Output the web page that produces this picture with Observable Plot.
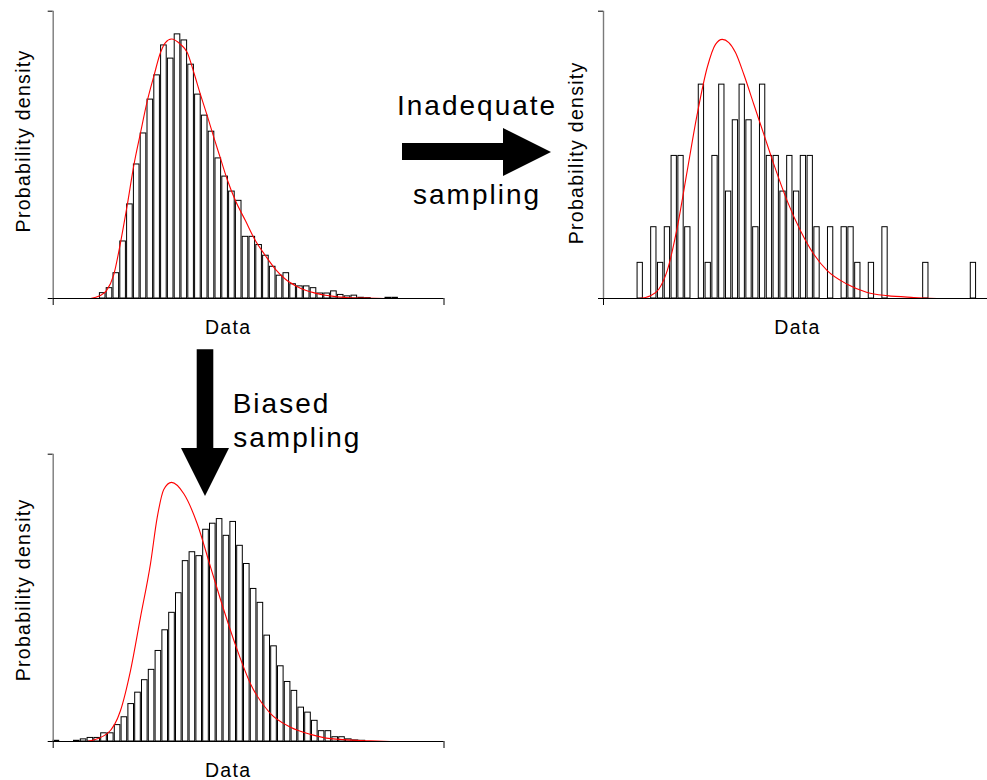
<!DOCTYPE html>
<html><head><meta charset="utf-8">
<script src="https://cdn.jsdelivr.net/npm/d3@7"></script>
<script src="https://cdn.jsdelivr.net/npm/@observablehq/plot@0.6"></script>
<style>
html,body{margin:0;padding:0;background:#fff;}
#page{position:relative;width:987px;height:780px;overflow:hidden;background:#fff;}
.panel{position:absolute;width:450px;height:345px;}
.panel svg{background:transparent !important;max-width:none !important;}
.panel svg text{font-family:"Liberation Sans",Arial,sans-serif;letter-spacing:1.3px;fill:#000;}
#notes{position:absolute;left:0;top:0;}
#notes text{font-family:"Liberation Sans",Arial,sans-serif;font-size:28px;letter-spacing:2px;fill:#000;}
</style></head><body><div id="page"></div>
<script>
// ---- data (x in bin units, y in percent of sample per bin) ----
const xMax = 57.47;
const yMax = 8.06;

// population histogram (top-left)
const popStart = 6.78;
const popPercent = [0.15,0.29,0.71,1.60,2.64,3.76,4.63,5.58,6.26,7.10,6.73,7.41,7.24,6.56,5.72,5.13,4.68,3.93,3.42,3.00,2.74,1.73,1.73,1.50,1.20,0.89,0.64,0.71,0.40,0.34,0.34,0.29,0.14,0.14,0.20,0.10,0.06,0.08,0.02,0.01,0,0,0.02,0.02];
const popCurveX = [5.49,6.85,7.84,8.91,9.90,10.88,11.85,12.84,13.82,14.79,15.78,16.51,17.40,18.72,19.71,20.68,21.66,22.65,23.62,24.60,25.59,26.81,28.28,29.75,31.22,32.69,34.16,35.63,37.10,38.57,40.04,42.99,45.93,48.87];
const popCurveY = [0,0.08,0.22,0.67,1.57,2.61,3.73,4.65,5.53,6.23,6.90,7.18,7.28,7.13,6.90,6.34,5.72,5.13,4.52,3.93,3.34,2.74,2.18,1.62,1.20,0.82,0.54,0.36,0.23,0.15,0.09,0.03,0.01,0];

// small sample (top-right), counts out of 100
const sampleStart = 4.9;
const sampleCounts = [1,0,2,1,2,4,4,2,0,6, 1,4,6,3,5,6,5,2,6,4, 4,3,4,3,4,4,2,0,2,0, 2,2,1,0,1,0,2,0,0,0, 0,0,1,0,0,0,0,0,0,1];
const sampleCurveX = [5.19,6.91,8.13,9.37,10.84,12.31,13.78,15.25,16.47,17.46,18.43,19.41,20.63,22.10,23.57,25.04,27.01,28.97,30.93,32.90,35.84,38.78,41.72,45.63,49.07];
const sampleCurveY = [0,0.08,0.26,0.78,1.99,3.58,5.17,6.48,7.13,7.27,7.18,6.90,6.29,5.45,4.61,3.77,2.74,1.90,1.24,0.78,0.40,0.17,0.08,0.03,0];

// biased sample (bottom)
const biasStart = -0.03;
const biasPercent = [0.02,0,0,0.02,0.06,0.10,0.10,0.23,0.23,0.46,0.68,1.05,1.37,1.72,2.01,2.54,3.12,3.61,4.16,5.06,5.31,5.20,5.94,6.11,6.24,5.77,6.16,5.49,4.98,4.28,3.89,2.97,2.67,2.11,1.67,1.42,0.95,0.81,0.58,0.29,0.29,0.12,0.12,0.06,0.03,0.02];
const biasCurveX = [5.0,7.94,9.90,11.37,12.84,14.31,15.29,16.26,17.40,19.21,21.18,23.13,25.09,27.06,29.01,31.96,34.90,37.84,40.78,46.66,49.60];
const biasCurveY = [0,0.22,0.87,1.99,3.49,4.99,6.28,7.07,7.27,6.95,6.11,4.90,3.69,2.57,1.62,0.78,0.40,0.20,0.08,0.02,0];

const xLabel = "Data";
const yLabel = "Probability density";

// ---- build ----
function bins(start, values) {
  return values.map((p, i) => ({x1: start + i, x2: start + i + 1, p})).filter(d => d.p > 0);
}
function pts(xs, ys) { return xs.map((x, i) => ({x, p: ys[i]})); }

const page = document.getElementById("page");

function panel(cfg) {
  const plot = Plot.plot({
    width: 450, height: 345,
    marginLeft: cfg.marginLeft, marginRight: cfg.marginRight, marginTop: 10.7, marginBottom: 47,
    style: {background: "transparent", color: "#000", overflow: "visible"},
    x: {domain: [0, xMax], ticks: [0, xMax], tickSize: 7, tickFormat: () => "", label: null},
    y: {domain: [0, yMax], ticks: [0, yMax], tickSize: 5, tickFormat: () => "", label: null},
    marks: [
      Plot.rectY(cfg.bars, {x1: "x1", x2: "x2", y: "p", fill: "white", stroke: "black", strokeWidth: 1, insetLeft: cfg.inset, insetRight: cfg.inset}),
      Plot.line(cfg.curve, {x: "x", y: "p", stroke: "red", strokeWidth: 1.1, curve: "monotone-x"}),
      Plot.ruleY([0], {stroke: "black", strokeWidth: 1.2}),
      Plot.ruleX([0], {stroke: "#7a7a7a", strokeWidth: 1.4}),
      Plot.text([xLabel], {text: d => d, frameAnchor: "bottom", textAnchor: "middle", lineAnchor: "middle", dx: cfg.xdx, dy: 29.2, fontSize: 19.5}),
      Plot.text([yLabel], {text: d => d, frameAnchor: "left", textAnchor: "middle", lineAnchor: "middle", rotate: -90, dx: cfg.ydx, dy: cfg.ydy, fontSize: 19.5})
    ]
  });
  const div = document.createElement("div");
  div.className = "panel";
  div.style.left = cfg.left + "px";
  div.style.top = cfg.top + "px";
  div.appendChild(plot);
  page.appendChild(div);
}

panel({left: 0, top: 0, marginLeft: 52.7, marginRight: 6.5, inset: 0.6,
  bars: bins(popStart, popPercent), curve: pts(popCurveX, popCurveY),
  xdx: -20.5, ydx: -29.4, ydy: -13.9});

const n = d3.sum(sampleCounts);
panel({left: 550, top: 0, marginLeft: 53, marginRight: 6.2, inset: 0.75,
  bars: bins(sampleStart, sampleCounts.map(c => c / n * 100)), curve: pts(sampleCurveX, sampleCurveY),
  xdx: -1.4, ydx: -27, ydy: -2});

panel({left: 0, top: 443, marginLeft: 52.7, marginRight: 6.5, inset: 0.6,
  bars: bins(biasStart, biasPercent), curve: pts(biasCurveX, biasCurveY),
  xdx: -20.5, ydx: -29.4, ydy: -8});

// ---- annotations: arrows and captions ----
const NS = "http://www.w3.org/2000/svg";
const notes = document.createElementNS(NS, "svg");
notes.setAttribute("id", "notes");
notes.setAttribute("width", 987);
notes.setAttribute("height", 780);
const arrows = [
  "402,143 503,143 503,128 551,152 503,176 503,160 402,160",
  "196.7,349.3 213.3,349.3 213.3,448 229,448 205,496 181,448 196.7,448"
];
arrows.forEach(p => {
  const el = document.createElementNS(NS, "polygon");
  el.setAttribute("points", p);
  el.setAttribute("fill", "#000");
  notes.appendChild(el);
});
const captions = [
  ["Inadequate", 397, 115],
  ["sampling", 413, 204],
  ["Biased", 232.7, 413.3],
  ["sampling", 233.3, 446.7]
];
captions.forEach(([t, x, y]) => {
  const el = document.createElementNS(NS, "text");
  el.setAttribute("x", x);
  el.setAttribute("y", y);
  el.textContent = t;
  notes.appendChild(el);
});
page.appendChild(notes);
</script>
</body></html>
